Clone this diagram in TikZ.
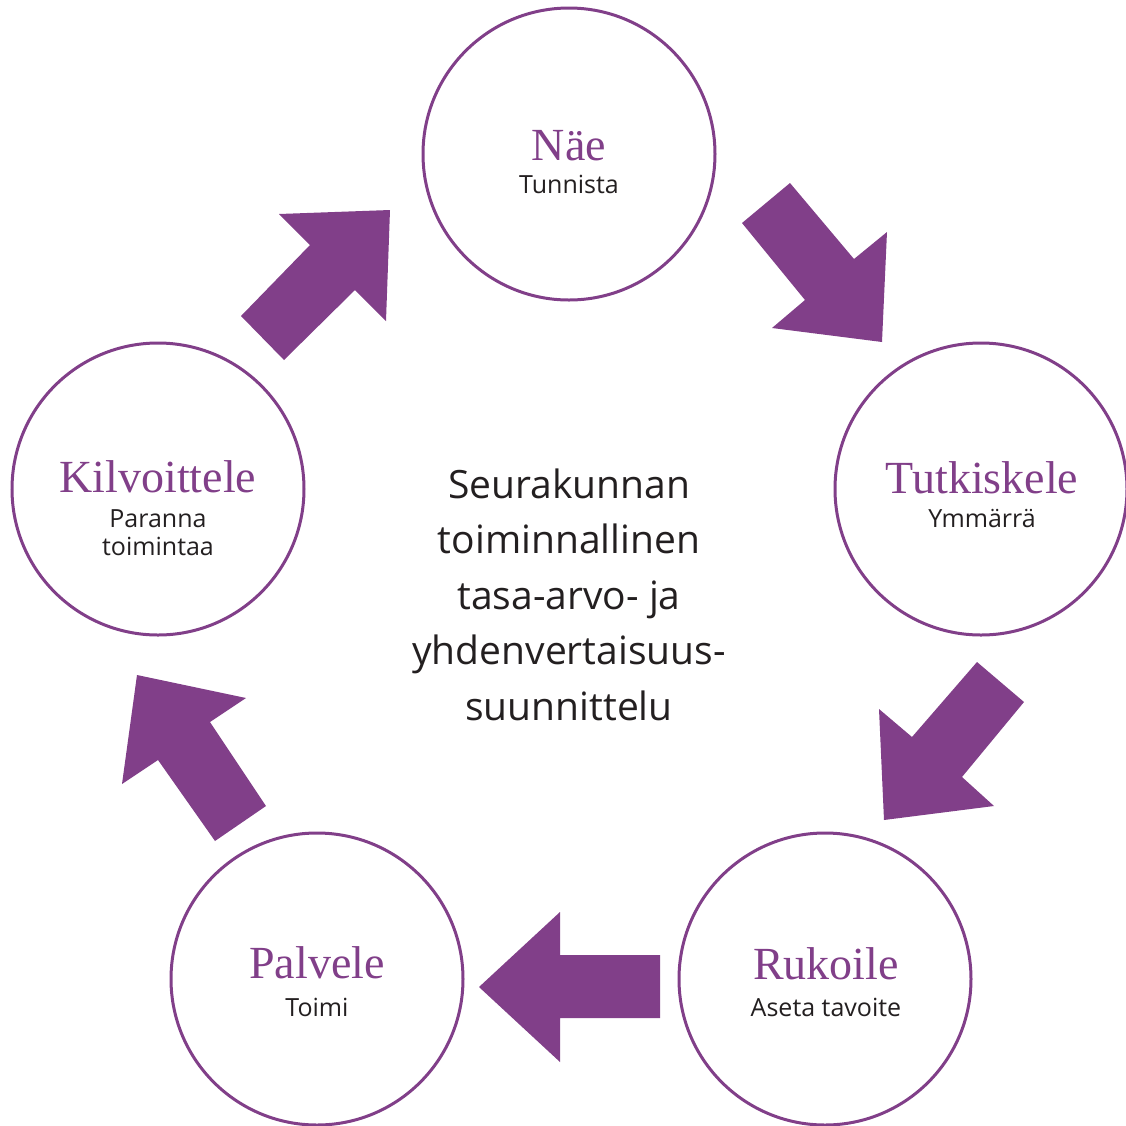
\documentclass[tikz,border=0pt]{standalone}
\usepackage{fontspec}
\newfontfamily\headfont{Liberation Serif}
\newfontfamily\bodyfont{Open Sans}
\definecolor{evlpurple}{RGB}{129,63,137}
\definecolor{txtgray}{RGB}{35,31,32}
\begin{document}
\begin{tikzpicture}[x=0.5pt,y=-0.5pt,
  stage/.style={circle,draw=evlpurple,line width=1.5pt,minimum size=146pt,inner sep=0pt},
  title/.style={anchor=base,text=evlpurple,font=\headfont\fontsize{23pt}{23pt}\selectfont,inner sep=0pt},
  sub/.style={anchor=base,text=txtgray,font=\bodyfont\fontsize{12.5pt}{14pt}\selectfont,inner sep=0pt,align=center},
  bigarrow/.style={fill=evlpurple,draw=none}]
\useasboundingbox (0,0) rectangle (1126,1126);

% block arrows
\fill[bigarrow] (279,214) -- (390,210) -- (386,321) -- (355,290) -- (284,360) -- (241,316) -- (310,245) -- cycle;
\fill[bigarrow] (790,183) -- (742,223) -- (805,300) -- (772,328) -- (882,342) -- (887,232) -- (854,259) -- cycle;
\fill[bigarrow] (977,662) -- (1024,702) -- (962,777) -- (994,806) -- (884,820) -- (879,709) -- (912,737) -- cycle;
\fill[bigarrow] (479,987) -- (560,912) -- (560,955) -- (660,955) -- (660,1018) -- (560,1018) -- (560,1062) -- cycle;
\fill[bigarrow] (137,675) -- (246,698) -- (210,722) -- (266,806) -- (215,841) -- (158,760) -- (122,784) -- cycle;

% circles
\node[stage] (nae) at (569,154) {};
\node[stage] (tutk) at (981,489) {};
\node[stage] (ruk) at (825,979) {};
\node[stage] (palv) at (317,979) {};
\node[stage] (kilv) at (158,489) {};

% texts
\node[title] (naeT) at (569,160) {Näe};
\node[sub] (naeS) at (569,193) {Tunnista};
\node[title] (tutkT) at (982,493) {Tutkiskele};
\node[sub] (tutkS) at (982,527) {Ymmärrä};
\node[title] (rukT) at (826,979) {Rukoile};
\node[sub] (rukS) at (826,1016) {Aseta tavoite};
\node[title] (palvT) at (317,978) {Palvele};
\node[sub] (palvS) at (317,1016) {Toimi};
\node[title] (kilvT) at (158,492) {Kilvoittele};
\node[sub] (kilvS) at (158,555) {Paranna\\toimintaa};

\node[anchor=base,text=txtgray,font=\bodyfont\fontsize{19.5pt}{27.75pt}\selectfont,align=center,inner sep=0pt] (center) at (569,720) {Seurakunnan\\toiminnallinen\\tasa-arvo- ja\\yhdenvertaisuus-\\suunnittelu};
\end{tikzpicture}
\end{document}
